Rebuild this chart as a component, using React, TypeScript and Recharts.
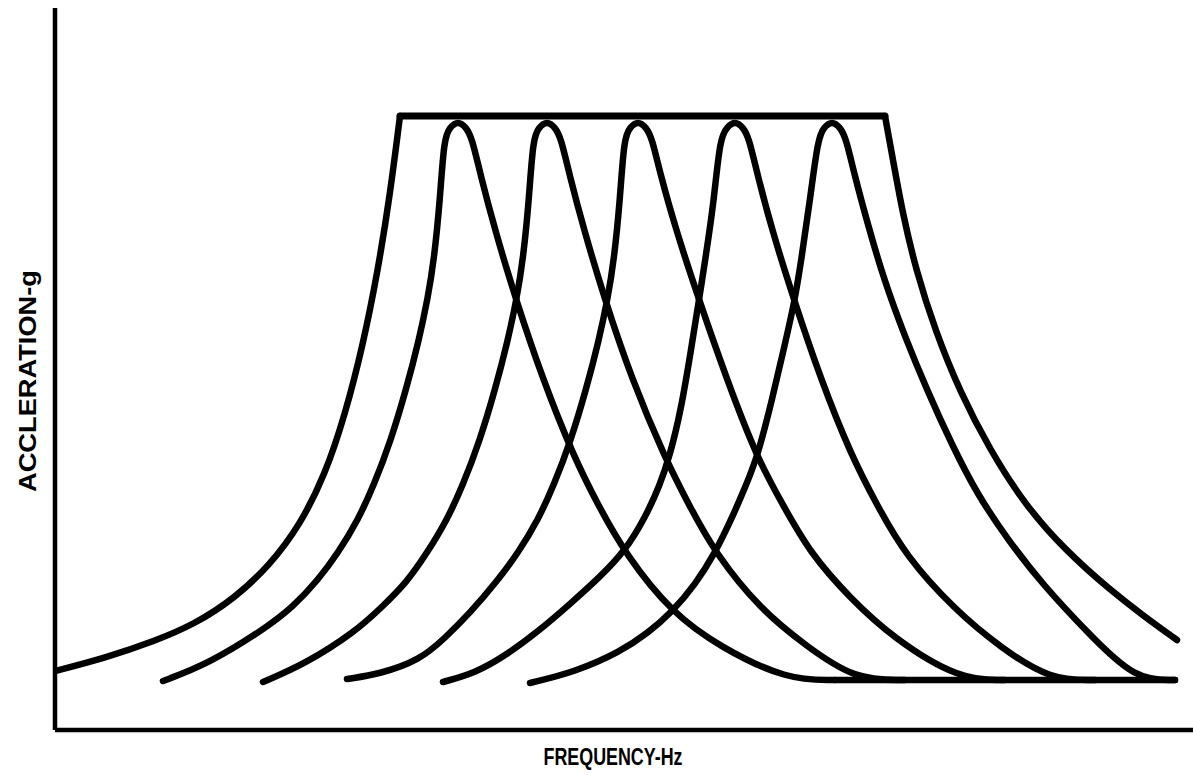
import { Label, Line, LineChart, XAxis, YAxis } from "recharts";

// frequency (arbitrary units) vs acceleration (arbitrary units)
const envelopeRise: [number, number][] = [
  [0, 5.9], [5, 7.2], [10, 8.9], [14, 10.6], [18, 13.2], [21.5, 16.5], [24.5, 20.5],
  [27, 25.5], [29, 31.5], [30.8, 38.5], [32.3, 46], [33.5, 53.5], [34.5, 61.4],
];
const envelopeTop: [number, number][] = [[34.5, 61.4], [83.0, 61.4]];
const envelopeFall: [number, number][] = [
  [83.0, 61.4], [83.8, 57.0], [84.8, 51.5], [86.1, 46.0], [88.0, 40.0], [90.5, 33.8],
  [93.5, 28.0], [97.0, 22.5], [101.0, 18.0], [105.5, 14.0], [109.0, 11.3], [112.2, 9.0],
];
const baseline: [number, number][] = [[78.0, 5.0], [112.0, 5.0]];

const peak1: [number, number][] = [
  [10.8, 4.9], [15.3, 6.6], [20.8, 10.0], [23.8, 12.3], [26.3, 15.0], [28.3, 17.7],
  [30.3, 21.0], [31.9, 24.5], [33.6, 29.0], [35.1, 34.0], [36.4, 39.0], [37.3, 43.3],
  [37.9, 47.0], [38.5, 53.0], [38.9, 59.2], [39.5, 60.3], [40.3, 60.9], [41.1, 60.3],
  [41.7, 59.2], [42.5, 55.7], [44.0, 50.0], [46.0, 43.3], [48.8, 35.0], [51.8, 27.5],
  [54.3, 22.5], [57.1, 17.5], [61.7, 11.7], [66.5, 8.3], [73.2, 5.0], [78.0, 5.0],
];
const peak2: [number, number][] = [
  [20.8, 4.8], [25.0, 6.6], [30.0, 9.8], [32.7, 12.3], [35.2, 14.8], [37.2, 17.7],
  [39.2, 21.0], [40.8, 24.5], [42.5, 29.0], [44.0, 34.0], [45.3, 39.0], [46.2, 43.3],
  [46.8, 47.0], [47.4, 53.0], [47.8, 59.2], [48.4, 60.3], [49.2, 60.9], [50.0, 60.3],
  [50.6, 59.2], [51.4, 55.7], [52.9, 50.0], [54.9, 43.3], [57.7, 35.0], [61.0, 27.2],
  [63.4, 22.5], [66.0, 17.7], [70.6, 12.0], [75.0, 8.5], [80.0, 5.0], [85.0, 5.0],
];
const peak3: [number, number][] = [
  [29.2, 5.1], [32.5, 5.6], [36.5, 7.0], [39.0, 9.2], [41.5, 11.7], [44.3, 15.0],
  [46.3, 17.7], [48.3, 21.0], [49.9, 24.5], [51.6, 29.0], [53.1, 34.0], [54.4, 39.0],
  [55.3, 43.3], [55.9, 47.0], [56.5, 53.0], [56.9, 59.2], [57.5, 60.3], [58.3, 60.9],
  [59.1, 60.3], [59.7, 59.2], [60.5, 55.7], [62.1, 50.0], [64.3, 43.3], [67.2, 35.0],
  [70.2, 27.2], [72.8, 22.5], [75.5, 17.7], [79.5, 13.2], [83.8, 9.2], [90.5, 5.0],
  [95.0, 5.0],
];
const peak4: [number, number][] = [
  [38.8, 4.8], [42.0, 5.7], [45.0, 7.4], [48.5, 10.0], [51.5, 12.6], [54.5, 15.3],
  [57.0, 17.9], [59.0, 21.2], [60.5, 24.5], [61.5, 27.5], [62.6, 32.0], [63.6, 38.0],
  [64.4, 43.0], [65.1, 47.5], [65.9, 53.0], [66.5, 59.2], [67.2, 60.3], [68.0, 60.9],
  [68.8, 60.3], [69.4, 59.2], [70.2, 55.7], [71.7, 50.0], [73.8, 43.3], [76.6, 35.0],
  [79.6, 27.5], [82.2, 22.5], [85.0, 17.5], [90.0, 12.0], [94.5, 8.3], [99.5, 5.0],
  [104.0, 5.0],
];
const peak5: [number, number][] = [
  [47.5, 4.7], [52.0, 5.8], [56.5, 7.8], [59.3, 9.7], [61.7, 11.8], [64.0, 14.5],
  [66.0, 17.7], [67.6, 21.0], [69.0, 24.2], [70.3, 27.5], [71.7, 33.0], [72.9, 38.2],
  [74.0, 43.0], [74.7, 47.5], [75.5, 53.0], [76.3, 59.2], [76.9, 60.3], [77.7, 60.9],
  [78.5, 60.3], [79.1, 59.2], [79.9, 55.7], [81.3, 50.5], [82.9, 45.0], [85.0, 39.3],
  [87.2, 34.0], [89.7, 28.5], [92.2, 23.6], [95.3, 19.0], [98.8, 14.5], [103.3, 9.7],
  [108.0, 5.0], [112.0, 5.0],
];

const xLabel = "FREQUENCY-Hz";
const yLabel = "ACCLERATION-g";

const toPoints = (pts: [number, number][]) => pts.map(([f, a]) => ({ f, a }));

const ink = "#000";
const labelFont = "'Liberation Sans', Arial, sans-serif";

const curves: { key: string; pts: [number, number][]; type: "basis" | "linear" }[] = [
  { key: "rise", pts: envelopeRise, type: "basis" },
  { key: "top", pts: envelopeTop, type: "linear" },
  { key: "fall", pts: envelopeFall, type: "basis" },
  { key: "base", pts: baseline, type: "linear" },
  { key: "p1", pts: peak1, type: "basis" },
  { key: "p2", pts: peak2, type: "basis" },
  { key: "p3", pts: peak3, type: "basis" },
  { key: "p4", pts: peak4, type: "basis" },
  { key: "p5", pts: peak5, type: "basis" },
];

export default function App() {
  return (
    <div style={{ position: "absolute", left: 0, top: 0, width: 1193, height: 775, background: "#fff" }}>
      <LineChart width={1193} height={775} margin={{ top: 8, right: 0, bottom: 0, left: 0 }}>
        <XAxis
          type="number"
          dataKey="f"
          domain={[0, 113.8]}
          allowDataOverflow
          height={45}
          tick={false}
          tickLine={false}
          axisLine={{ stroke: ink, strokeWidth: 4.5 }}
        >
          <Label
            content={({ viewBox }: any) => (
              <text
                x={viewBox.x + viewBox.width / 2 - 11}
                y={viewBox.y + 27}
                textAnchor="middle"
                dominantBaseline="central"
                fontFamily={labelFont}
                fontWeight="bold"
                fontSize={23}
                textLength={139}
                lengthAdjust="spacingAndGlyphs"
                fill={ink}
              >
                {xLabel}
              </text>
            )}
          />
        </XAxis>
        <YAxis
          type="number"
          domain={[0, 72.2]}
          allowDataOverflow
          width={55}
          tick={false}
          tickLine={false}
          axisLine={{ stroke: ink, strokeWidth: 4.5 }}
        >
          <Label
            content={({ viewBox }: any) => {
              const cx = viewBox.x + viewBox.width / 2;
              const cy = viewBox.y + viewBox.height / 2 + 12;
              return (
                <text
                  x={cx}
                  y={cy}
                  transform={`rotate(-90, ${cx}, ${cy})`}
                  textAnchor="middle"
                  dominantBaseline="central"
                  fontFamily={labelFont}
                  fontWeight="bold"
                  fontSize={23}
                  textLength={222}
                  lengthAdjust="spacingAndGlyphs"
                  fill={ink}
                >
                  {yLabel}
                </text>
              );
            }}
          />
        </YAxis>
        {curves.map((c) => (
          <Line
            key={c.key}
            data={toPoints(c.pts)}
            dataKey="a"
            type={c.type}
            stroke={ink}
            strokeWidth={c.key === "top" ? 7 : 6.5}
            strokeLinecap="round"
            strokeLinejoin="round"
            dot={false}
            activeDot={false}
            isAnimationActive={false}
          />
        ))}
      </LineChart>
    </div>
  );
}
